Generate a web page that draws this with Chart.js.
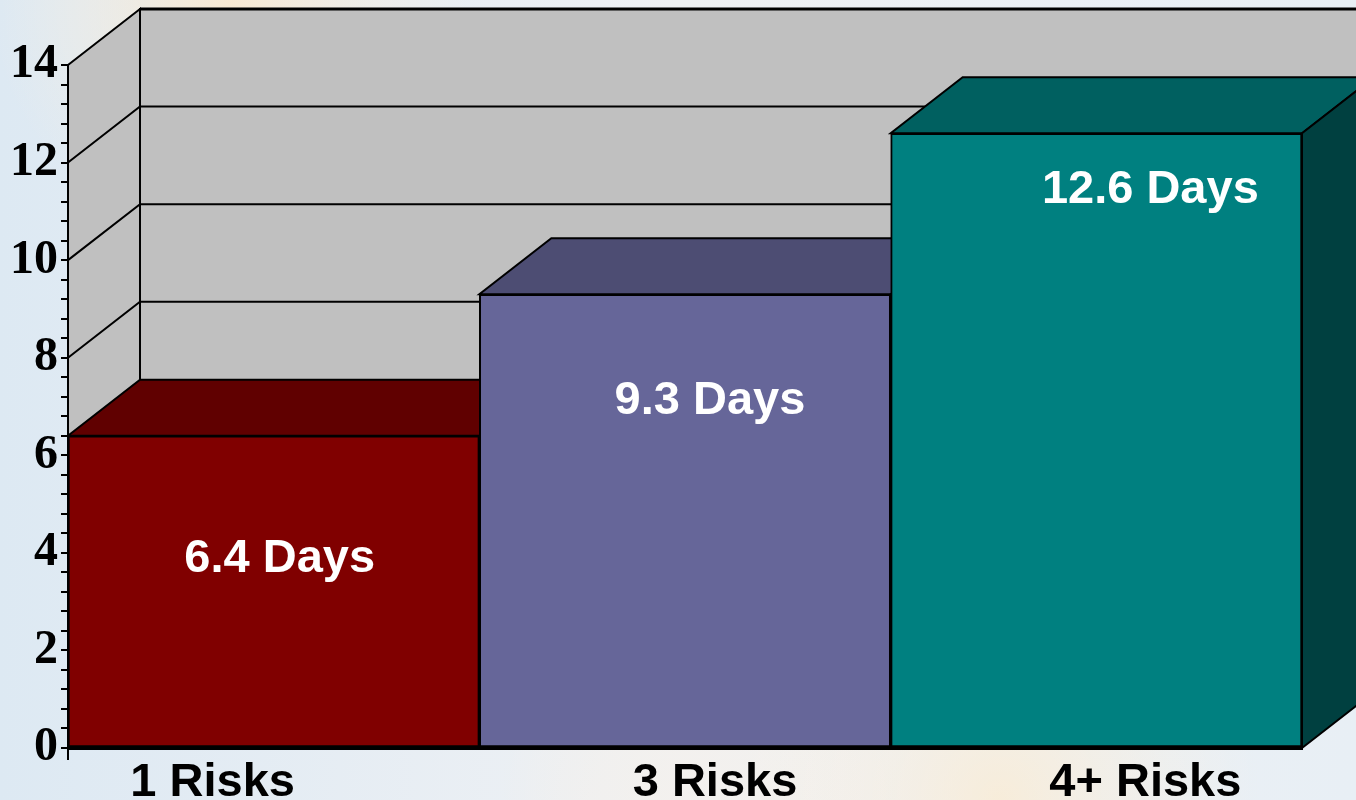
<!DOCTYPE html>
<html>
<head>
<meta charset="utf-8">
<script src="https://cdn.jsdelivr.net/npm/chart.js@4"></script>
<style>
  html, body { margin: 0; padding: 0; }
  body { width: 1356px; height: 800px; overflow: hidden; }
  #wrap { width: 1356px; height: 800px; }
</style>
</head>
<body>
<div id="wrap"><canvas id="chart"></canvas></div>
<script>
// 데이터
const categories = ['1 Risks', '3 Risks', '4+ Risks'];
const days = [6.4, 9.3, 12.6];
const valueLabels = ['6.4 Days', '9.3 Days', '12.6 Days'];
const yTicks = [0, 2, 4, 6, 8, 10, 12, 14];

// 색상 (앞면 / 윗면 / 옆면)
const frontColors = ['#800000', '#666699', '#008080'];
const topColors = ['#600000', '#4d4d73', '#006060'];
const sideColors = ['#400000', '#33334d', '#004040'];

// 3D 깊이
const DEPTH_X = 72;
const DEPTH_Y = -56;

// 라벨 위치 보정 (막대 중심 기준)
const catLabelShift = [-61, 30, 49];
const valLabelShiftX = [6, 25, 54];
const valLabelBaseline = [572, 414, 203];

const background = {
  id: 'background',
  beforeDraw(chart) {
    const { ctx, width, height } = chart;
    ctx.save();
    const g = ctx.createLinearGradient(0, 0, width, 0);
    g.addColorStop(0, '#dde9f3');
    g.addColorStop(0.5, '#eff1f4');
    g.addColorStop(1, '#e8eff5');
    ctx.fillStyle = g;
    ctx.fillRect(0, 0, width, height);
    // 따뜻한 빛 번짐
    const glow = (x, y, r, c) => {
      const rg = ctx.createRadialGradient(x, y, 0, x, y, r);
      rg.addColorStop(0, c);
      rg.addColorStop(1, 'rgba(255,240,220,0)');
      ctx.fillStyle = rg;
      ctx.fillRect(0, 0, width, height);
    };
    glow(230, 0, 240, 'rgba(255,232,200,0.75)');
    glow(1000, 800, 260, 'rgba(255,234,200,0.6)');
    glow(700, 800, 200, 'rgba(245,240,235,0.6)');
    ctx.restore();
  }
};

const box3d = {
  id: 'box3d',
  beforeDatasetsDraw(chart) {
    const { ctx, chartArea: a, scales: { y } } = chart;
    const L = a.left, R = a.right, T = y.getPixelForValue(14), B = y.getPixelForValue(0);
    ctx.save();
    ctx.lineJoin = 'miter';
    ctx.strokeStyle = '#000';

    // 뒷벽
    ctx.fillStyle = '#c0c0c0';
    ctx.lineWidth = 2;
    ctx.beginPath();
    ctx.rect(L + DEPTH_X, T + DEPTH_Y, R - L + 200, B - T);
    ctx.fill();
    ctx.stroke();
    ctx.lineWidth = 3;
    ctx.beginPath();
    ctx.moveTo(L + DEPTH_X, T + DEPTH_Y);
    ctx.lineTo(chart.width + 10, T + DEPTH_Y);
    ctx.stroke();

    // 옆벽
    ctx.lineWidth = 2;
    ctx.beginPath();
    ctx.moveTo(L, T);
    ctx.lineTo(L + DEPTH_X, T + DEPTH_Y);
    ctx.lineTo(L + DEPTH_X, B + DEPTH_Y);
    ctx.lineTo(L, B);
    ctx.closePath();
    ctx.fill();
    ctx.stroke();

    // 눈금선
    ctx.lineWidth = 2;
    yTicks.forEach(v => {
      if (v === 0 || v === 14) return;
      const py = y.getPixelForValue(v);
      ctx.beginPath();
      ctx.moveTo(L, py);
      ctx.lineTo(L + DEPTH_X, py + DEPTH_Y);
      ctx.lineTo(chart.width + 10, py + DEPTH_Y);
      ctx.stroke();
    });

    // 막대 윗면/옆면
    ctx.lineWidth = 2;
    chart.getDatasetMeta(0).data.forEach((bar, i) => {
      const { x, y: top, width } = bar.getProps(['x', 'y', 'width'], true);
      const x0 = x - width / 2, x1 = x + width / 2;
      ctx.fillStyle = topColors[i];
      ctx.beginPath();
      ctx.moveTo(x0, top);
      ctx.lineTo(x1, top);
      ctx.lineTo(x1 + DEPTH_X, top + DEPTH_Y);
      ctx.lineTo(x0 + DEPTH_X, top + DEPTH_Y);
      ctx.closePath();
      ctx.fill();
      ctx.stroke();
      ctx.fillStyle = sideColors[i];
      ctx.beginPath();
      ctx.moveTo(x1, top);
      ctx.lineTo(x1 + DEPTH_X, top + DEPTH_Y);
      ctx.lineTo(x1 + DEPTH_X, B + DEPTH_Y);
      ctx.lineTo(x1, B);
      ctx.closePath();
      ctx.fill();
      ctx.stroke();
    });
    ctx.restore();
  },
  afterDatasetsDraw(chart) {
    const { ctx, scales: { x } } = chart;
    ctx.save();
    ctx.fillStyle = '#ffffff';
    ctx.font = 'bold 47px "Liberation Sans", Arial, sans-serif';
    ctx.textAlign = 'center';
    ctx.textBaseline = 'alphabetic';
    valueLabels.forEach((t, i) => {
      ctx.fillText(t, x.getPixelForValue(i) + valLabelShiftX[i], valLabelBaseline[i]);
    });
    ctx.fillStyle = '#000000';
    categories.forEach((t, i) => {
      ctx.fillText(t, x.getPixelForValue(i) + catLabelShift[i], 796);
    });
    ctx.restore();
  }
};

new Chart(document.getElementById('chart'), {
  type: 'bar',
  data: {
    labels: categories,
    datasets: [{
      data: days,
      backgroundColor: frontColors,
      borderColor: '#000',
      borderWidth: 2,
      borderSkipped: false,
      barPercentage: 1,
      categoryPercentage: 1
    }]
  },
  options: {
    responsive: true,
    maintainAspectRatio: false,
    animation: false,
    layout: { padding: { top: 65, right: 54, left: 0, bottom: 0 } },
    plugins: { legend: { display: false }, tooltip: { enabled: false } },
    scales: {
      x: {
        afterFit: s => { s.height = 52; },
        border: { display: true, color: '#000', width: 3 },
        grid: {
          drawOnChartArea: false,
          tickLength: 12,
          lineWidth: 2,
          color: ctx => (ctx.index === 0 || ctx.index === categories.length) ? '#000' : 'rgba(0,0,0,0)'
        },
        ticks: { display: false }
      },
      y: {
        min: 0,
        max: 14,
        afterFit: s => { s.width = 68; },
        border: { display: true, color: '#000', width: 3 },
        grid: { drawOnChartArea: false, tickLength: 7, lineWidth: 2, color: '#000' },
        ticks: {
          stepSize: 0.4,
          autoSkip: false,
          padding: 3,
          color: '#000',
          font: { family: '"Liberation Serif", "Times New Roman", serif', size: 48, weight: 'bold' },
          callback: v => yTicks.includes(Math.round(v * 10) / 10) ? String(Math.round(v)) : ''
        }
      }
    }
  },
  plugins: [background, box3d]
});
</script>
</body>
</html>
